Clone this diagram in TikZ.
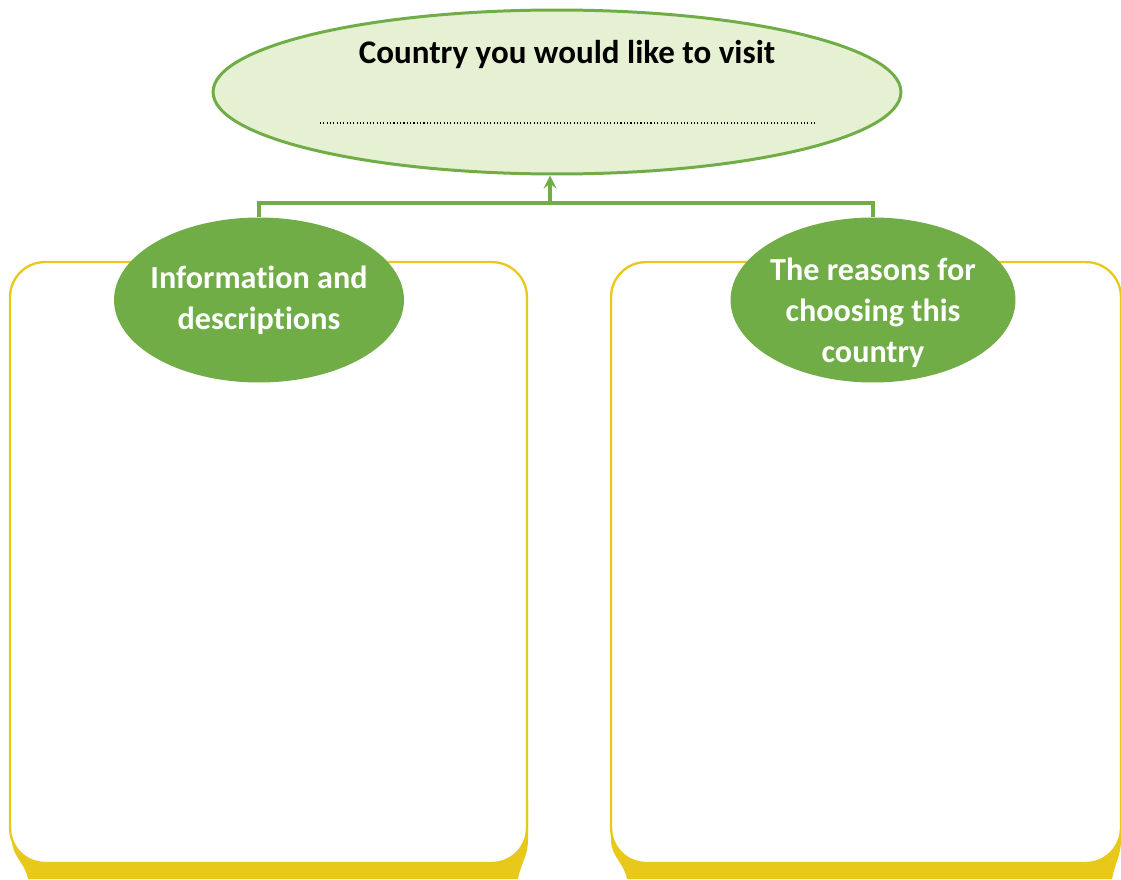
\documentclass[tikz,border=0pt]{standalone}
\usepackage{fontspec}
\setmainfont{Carlito}[Ligatures=NoCommon]
\usetikzlibrary{positioning}
\definecolor{leafgreen}{HTML}{70AD47}
\definecolor{palegreen}{HTML}{E6F0D3}
\definecolor{boxyellow}{HTML}{E8C81A}
\tikzset{
  topic/.style={ellipse, draw=leafgreen, fill=palegreen, line width=1.7pt, inner sep=0pt},
  branch/.style={ellipse, fill=leafgreen, inner sep=0pt, minimum height=3.3cm},
  branchtext/.style={text=white, align=center, inner sep=0pt,
    font=\bfseries\fontsize{18.3}{23.3}\selectfont},
  notebox/.style={rectangle, draw=boxyellow, fill=white, line width=1.3pt, rounded corners=0.7cm,
    minimum width=10.34cm, minimum height=12.02cm},
  link/.style={draw=leafgreen, line width=2.2pt},
}
\usetikzlibrary{shapes.geometric}
\begin{document}
\begin{tikzpicture}[x=0.02cm, y=-0.02cm, >=stealth]
  \useasboundingbox (0,0) rectangle (1121,879);
  % yellow shadows under the boxes
  \fill[boxyellow] (12,800) -- (12,840) to[out=-90,in=100] (28,879) -- (518,879) to[out=80,in=-90] (528,840) -- (528,800) -- cycle;
  \fill[boxyellow] (611,800) -- (611,840) to[out=-90,in=100] (627,879) -- (1112,879) to[out=80,in=-90] (1121,840) -- (1121,800) -- cycle;
  \node[notebox] (infobox) at (268.5,562.5) {};
  \node[notebox, minimum width=10.2cm] (reasonbox) at (866,562.5) {};
  % top ellipse
  \node[topic, minimum width=13.76cm, minimum height=3.28cm] (country) at (557,92) {};
  \node[font=\bfseries\fontsize{18.8}{22}\selectfont] (title) at (567,55) {Country you would like to visit};
  \draw[line width=0.8pt, dash pattern=on 0.6pt off 1.3pt] (320,123) -- (815,123);
  % the two branches
  \node[branch, minimum width=5.8cm] (info) at (259,300) {};
  \node[branchtext] (infotext) at (info.center) {Information and\\descriptions};
  \node[branch, minimum width=5.7cm] (reasons) at (873,300) {};
  \node[branchtext, yshift=-0.26cm] (reasonstext) at (reasons.center) {The reasons for\\choosing this\\country};
  \coordinate (join) at (550,203);
  \draw[link] (info.north) |- (join) -| (reasons.north);
  \draw[link, ->] (join) -- (join |- country.south);
\end{tikzpicture}
\end{document}
